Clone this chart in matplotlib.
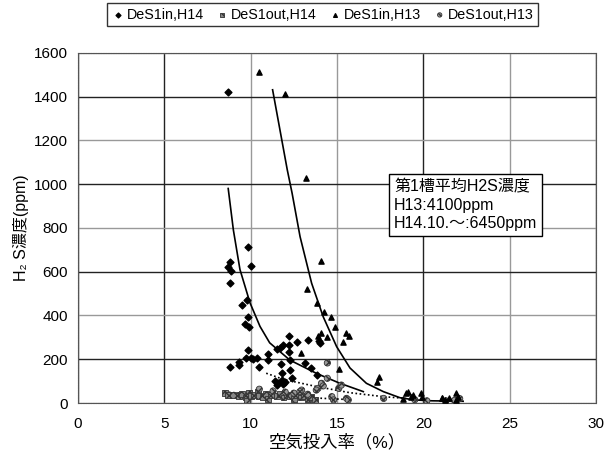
import numpy as np
import matplotlib
matplotlib.use("Agg")
import matplotlib.pyplot as plt

plt.rcParams['font.family'] = ['Liberation Sans', 'Noto Sans CJK JP', 'DejaVu Sans']

# DeS1in,H14 (diamonds)
in14_x = [8.69, 9.86, 10.0, 8.8, 8.7, 8.84, 8.8, 9.77, 9.51, 9.86, 9.67, 9.9, 9.86, 9.73,
          10.0, 10.35, 10.48, 9.3, 9.35, 8.8, 11.0, 11.0, 11.5, 11.9, 12.24, 12.2, 12.66,
          12.24, 11.73, 12.3, 11.8, 11.4, 11.6, 11.8, 12.0, 11.5, 11.9, 12.37, 13.3, 13.14,
          13.5, 13.82, 13.97, 10.15, 12.3, 11.7, 14.0]
in14_y = [1420, 711, 627, 642, 620, 604, 549, 470, 447, 391, 361, 348, 242, 207,
          205, 204, 166, 189, 174, 163, 222, 195, 246, 263, 263, 307, 278,
          233, 178, 195, 136, 100, 90, 105, 95, 83, 85, 113, 290, 183,
          158, 128, 282, 200, 151, 250, 275]

# DeS1out,H14 (squares)
out14_x = [8.5, 8.7, 9.0, 9.3, 9.5, 9.7, 9.8, 9.9, 10.0, 10.2, 10.4, 10.5, 10.7, 10.9, 11.0,
           11.2, 11.5, 11.7, 11.9, 12.1, 12.3, 12.5, 12.7, 12.9, 13.1, 13.3, 13.5, 13.7]
out14_y = [45, 37, 35, 30, 40, 25, 10, 45, 30, 35, 50, 30, 25, 40, 20,
           35, 30, 40, 25, 38, 30, 20, 35, 25, 30, 20, 28, 15]

# DeS1in,H13 (triangles)
in13_x = [10.5, 12.0, 13.2, 14.07, 13.24, 13.82, 14.25, 14.65, 14.88, 14.05, 14.44, 13.9,
          15.52, 15.69, 15.32, 12.9, 15.13, 17.43, 17.3, 19.0, 19.1, 19.3, 19.4, 19.84, 19.9,
          18.8, 21.05, 21.25, 21.5, 21.9, 22.0, 21.9, 21.1]
in13_y = [1510, 1410, 1030, 650, 521, 455, 417, 394, 349, 318, 300, 305,
          318, 307, 280, 227, 155, 120, 97, 44, 52, 29, 37, 44, 29,
          20, 21, 14, 21, 47, 29, 14, 21]

# DeS1out,H13 (circles)
out13_x = [10.5, 14.44, 14.44, 14.1, 14.2, 13.9, 13.8, 12.95, 12.85, 15.1, 15.25, 14.7, 14.8,
           15.55, 15.65, 17.7, 12.5, 13.3, 11.3, 12.0, 19.5, 20.2, 21.3, 21.8, 22.1]
out13_y = [63, 183, 113, 90, 78, 67, 59, 59, 52, 67, 82, 29, 14,
           21, 14, 21, 45, 40, 55, 50, 15, 10, 10, 12, 20]

# trend lines
fit14in_x = [8.7, 9.0, 9.38, 9.96, 10.54, 11.1, 12.27, 13.82, 15.17, 16.52]
fit14in_y = [980, 790, 610, 458, 350, 275, 196, 135, 90, 52]
fit13in_x = [11.27, 12.12, 12.4, 12.86, 13.53, 14.2, 14.98, 15.75, 16.7, 17.68, 18.65, 19.5, 20.5, 22.3]
fit13in_y = [1431, 1065, 958, 760, 547, 394, 257, 160, 90, 52, 24, 14, 10, 8]
fit13out_x = [10.9, 11.9, 13.82, 15.75, 17.68, 19.0]
fit13out_y = [136, 108, 75, 47, 29, 21]
fit14out_x = [8.5, 10.0, 12.0, 14.0, 15.6]
fit14out_y = [50, 42, 32, 22, 16]

fig = plt.figure(figsize=(6.04, 4.59), dpi=100)
ax = fig.add_axes([0.129, 0.122, 0.858, 0.763])

ax.plot(fit14in_x, fit14in_y, color='black', lw=1.2)
ax.plot(fit13in_x, fit13in_y, color='black', lw=1.2)
ax.plot(fit13out_x, fit13out_y, color='black', lw=1.2, ls=(0, (1, 1.5)))
ax.plot(fit14out_x, fit14out_y, color='black', lw=1.2, ls=(0, (1, 1.5)))

ax.scatter(out14_x, out14_y, marker='s', s=18, color='#888888', edgecolors='#333333',
           linewidths=0.6, hatch='xxxx', label='DeS1out,H14', zorder=3)
ax.scatter(out13_x, out13_y, marker='o', s=20, color='#999999', edgecolors='#333333',
           linewidths=0.6, hatch='xxxx', label='DeS1out,H13', zorder=3)
ax.scatter(in14_x, in14_y, marker='D', s=12, color='black', label='DeS1in,H14', zorder=4)
ax.scatter(in13_x, in13_y, marker='^', s=14, color='black', label='DeS1in,H13', zorder=4)

ax.set_xlim(0, 30)
ax.set_ylim(0, 1600)
ax.set_xticks(range(0, 31, 5))
ax.set_yticks(range(0, 1601, 200))
ax.tick_params(length=0, labelsize=11, pad=7)
ax.tick_params(axis='x', pad=10)
ax.grid(True, lw=1.0)
for i, gl in enumerate(ax.get_ygridlines()):
    gl.set_color('#222222' if i % 2 == 1 else '#999999')
for i, gl in enumerate(ax.get_xgridlines()):
    gl.set_color('#999999' if i in (2, 3, 5) else '#222222')
ax.set_axisbelow(True)
for sp in ax.spines.values():
    sp.set_color('#555555')
    sp.set_linestyle((0, (1, 0.5)))

ax.set_xlabel('空気投入率（%）', fontsize=12.5, labelpad=2)
ax.set_ylabel('H₂ S濃度(ppm)', fontsize=11.5, labelpad=4)

ax.text(0.61, 0.64, '第1槽平均H2S濃度\nH13:4100ppm\nH14.10.〜:6450ppm',
        transform=ax.transAxes, fontsize=11.5, va='top', ha='left', linespacing=1.3,
        bbox=dict(boxstyle='square,pad=0.3', fc='white', ec='black', lw=1.0), zorder=5)

h, l = ax.get_legend_handles_labels()
order = [l.index(n) for n in ['DeS1in,H14', 'DeS1out,H14', 'DeS1in,H13', 'DeS1out,H13']]
leg = fig.legend([h[i] for i in order], [l[i] for i in order], loc='center',
                 bbox_to_anchor=(0.534, 0.968), ncol=4, fontsize=10.3, frameon=True,
                 fancybox=False, edgecolor='black', handletextpad=0.1, columnspacing=0.8,
                 markerscale=0.7, borderpad=0.3, handlelength=1.0)
leg.get_frame().set_linewidth(1.0)

fig.savefig('out.png', dpi=100)
